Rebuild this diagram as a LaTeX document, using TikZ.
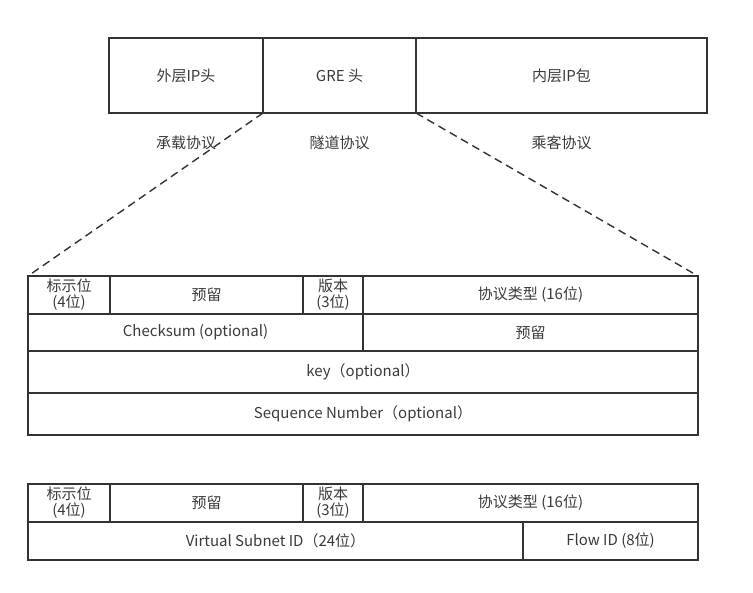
\documentclass[tikz,border=0pt]{standalone}
\usepackage{fontspec}
\setmainfont{Noto Sans CJK SC}
\usetikzlibrary{positioning}
\definecolor{linegray}{HTML}{333333}
\definecolor{textgray}{HTML}{3a3a3a}

\tikzset{
  field/.style={draw=linegray, line width=1.4pt, inner sep=0pt, outer sep=0pt,
    minimum height=38pt, align=center, text=textgray,
    font=\fontsize{15}{16}\selectfont},
  layer/.style={text=textgray, font=\fontsize{15}{16}\selectfont},
}

\begin{document}
\begin{tikzpicture}[x=1pt,y=-1pt,node distance=0pt]
  \useasboundingbox (0,0) rectangle (753,593);
  % packet
  \node[field, anchor=north west, minimum width=154pt, minimum height=75pt] at (109,38) (outer) {外层IP头};
  \node[field, minimum width=153pt, minimum height=75pt, right=of outer] (gre) {GRE 头};
  \node[field, minimum width=291pt, minimum height=75pt, right=of gre] (inner) {内层IP包};
  \node[layer, below=19pt of outer] (outer_lbl) {承载协议};
  \node[layer, below=19pt of gre] (gre_lbl) {隧道协议};
  \node[layer, below=19pt of inner] (inner_lbl) {乘客协议};
  %
  % GRE header
  \node[field, anchor=north west, minimum width=82pt] at (28,276) (flag) {标示位\\(4位)};
  \node[field, minimum width=193pt, right=of flag] (resv) {预留};
  \node[field, minimum width=60pt, right=of resv] (ver) {版本\\(3位)};
  \node[field, minimum width=335pt, right=of ver] (type) {协议类型 (16位)};
  \node[field, anchor=north west, minimum width=335pt, minimum height=37pt] at (flag.south west) (csum) {Checksum (optional)};
  \node[field, minimum width=335pt, minimum height=37pt, right=of csum] (resv_b) {预留};
  \node[field, anchor=north west, minimum width=670pt, minimum height=42pt] at (csum.south west) (key) {key（optional）};
  \node[field, anchor=north west, minimum width=670pt, minimum height=42pt] at (key.south west) (seq) {Sequence Number（optional）};
  %
  \draw[linegray, line width=1.4pt, dash pattern=on 8pt off 5pt] (gre.south west) -- (flag.north west);
  \draw[linegray, line width=1.4pt, dash pattern=on 8pt off 5pt] (gre.south east) -- (type.north east);
  %
  % NVGRE header
  \node[field, anchor=north west, minimum width=82pt] at (28,484) (nv_flag) {标示位\\(4位)};
  \node[field, minimum width=193pt, right=of nv_flag] (nv_resv) {预留};
  \node[field, minimum width=60pt, right=of nv_resv] (nv_ver) {版本\\(3位)};
  \node[field, minimum width=335pt, right=of nv_ver] (nv_type) {协议类型 (16位)};
  \node[field, anchor=north west, minimum width=495pt] at (nv_flag.south west) (vsid) {Virtual Subnet ID（24位）};
  \node[field, minimum width=175pt, right=of vsid] (flowid) {Flow ID (8位)};
\end{tikzpicture}
\end{document}
